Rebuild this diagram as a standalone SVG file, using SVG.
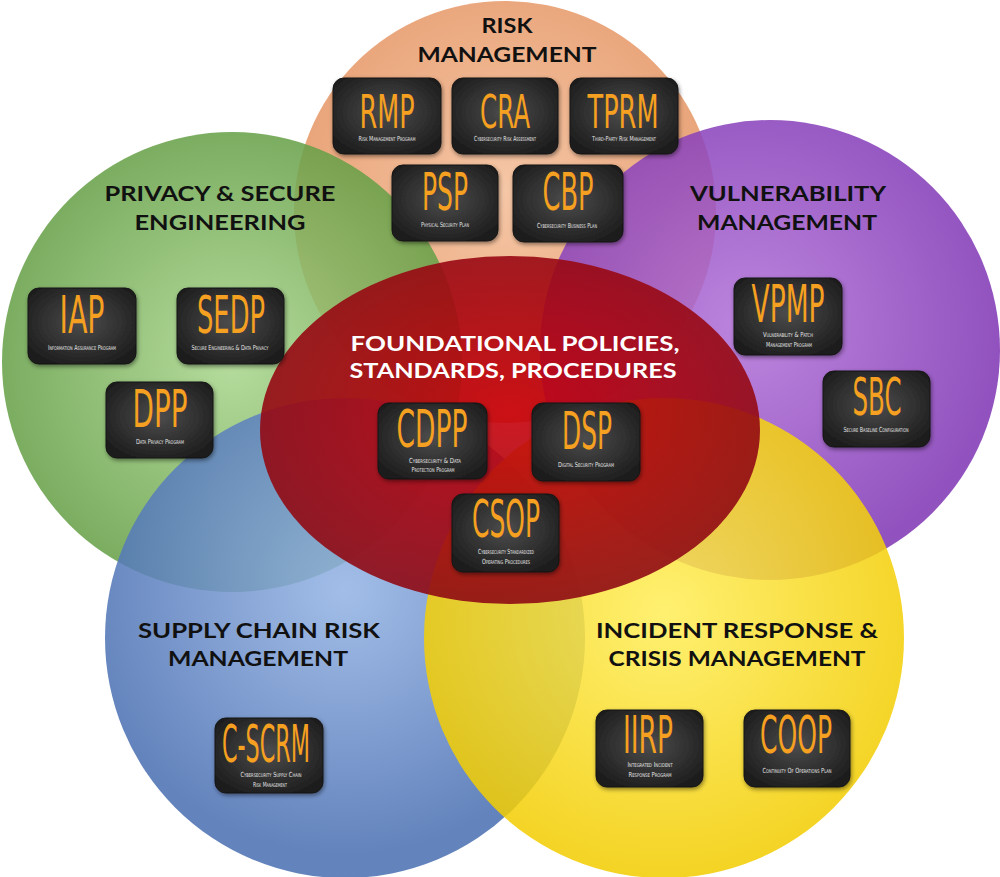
<svg xmlns="http://www.w3.org/2000/svg" width="1000" height="877" viewBox="0 0 1000 877">
<defs>
<radialGradient id="gOr" cx="0.5" cy="0.45" r="0.55"><stop offset="0" stop-color="#F4BE98"/><stop offset="1" stop-color="#E4915E"/></radialGradient>
<radialGradient id="gGr" cx="0.5" cy="0.5" r="0.55"><stop offset="0" stop-color="#A9D68C"/><stop offset="1" stop-color="#5F9A40"/></radialGradient>
<radialGradient id="gPu" cx="0.45" cy="0.45" r="0.55"><stop offset="0" stop-color="#B271D8"/><stop offset="1" stop-color="#7F36B4"/></radialGradient>
<radialGradient id="gBl" cx="0.5" cy="0.4" r="0.55"><stop offset="0" stop-color="#93B3E4"/><stop offset="1" stop-color="#4A6FB2"/></radialGradient>
<radialGradient id="gYe" cx="0.5" cy="0.45" r="0.55"><stop offset="0" stop-color="#FFEE5A"/><stop offset="1" stop-color="#F2CC00"/></radialGradient>
<radialGradient id="gRe" cx="0.5" cy="0.45" r="0.55"><stop offset="0" stop-color="#C8000A"/><stop offset="1" stop-color="#8E0A14"/></radialGradient>
<radialGradient id="gBox" cx="0.5" cy="0.45" r="0.6"><stop offset="0" stop-color="#4C4C4C"/><stop offset="1" stop-color="#1E1E1E"/></radialGradient>
<filter id="sh" x="-20%" y="-20%" width="140%" height="140%"><feDropShadow dx="1" dy="2" stdDeviation="2" flood-color="#000" flood-opacity="0.45"/></filter>
</defs>
<style>
.c{opacity:0.86}
.box{fill:url(#gBox);stroke:#151515;stroke-width:1;filter:url(#sh)}
.ac{font-family:"DejaVu Sans Condensed","DejaVu Sans",sans-serif;font-stretch:condensed;font-size:52px;fill:#F5A020;text-anchor:middle}
.ac2{font-size:46px}
.sub{font-family:"DejaVu Sans Condensed","DejaVu Sans",sans-serif;font-variant:small-caps;font-size:7px;fill:#E6E6E6;text-anchor:middle}
.ti{font-family:Lato,"Open Sans",sans-serif;font-weight:bold;font-size:21px;fill:#111;text-anchor:middle}
.tw{fill:#fff}
</style>
<g id="circles">
<circle class="c" cx="505" cy="212" r="211" fill="url(#gOr)"/>
<circle class="c" cx="232" cy="362" r="230" fill="url(#gGr)"/>
<circle class="c" cx="770" cy="350" r="230" fill="url(#gPu)"/>
<circle class="c" cx="345" cy="638" r="240" fill="url(#gBl)"/>
<circle class="c" cx="664" cy="638" r="240" fill="url(#gYe)"/>
<ellipse cx="510" cy="430" rx="250" ry="174" fill="url(#gRe)" opacity="0.9"/>
</g>
<g id="titles">
<text class="ti" x="507" y="33" textLength="51" lengthAdjust="spacingAndGlyphs">RISK</text>
<text class="ti" x="507" y="62" textLength="179" lengthAdjust="spacingAndGlyphs">MANAGEMENT</text>
<text class="ti" x="220" y="201" textLength="231" lengthAdjust="spacingAndGlyphs">PRIVACY &amp; SECURE</text>
<text class="ti" x="220" y="230" textLength="171" lengthAdjust="spacingAndGlyphs">ENGINEERING</text>
<text class="ti" x="788" y="201" textLength="196" lengthAdjust="spacingAndGlyphs">VULNERABILITY</text>
<text class="ti" x="787" y="230" textLength="180" lengthAdjust="spacingAndGlyphs">MANAGEMENT</text>
<text class="ti tw" x="515" y="351" textLength="329" lengthAdjust="spacingAndGlyphs">FOUNDATIONAL POLICIES,</text>
<text class="ti tw" x="513" y="378" textLength="327" lengthAdjust="spacingAndGlyphs">STANDARDS, PROCEDURES</text>
<text class="ti" x="259" y="638" textLength="242" lengthAdjust="spacingAndGlyphs">SUPPLY CHAIN RISK</text>
<text class="ti" x="258" y="666" textLength="180" lengthAdjust="spacingAndGlyphs">MANAGEMENT</text>
<text class="ti" x="737" y="638" textLength="282" lengthAdjust="spacingAndGlyphs">INCIDENT RESPONSE &amp;</text>
<text class="ti" x="737" y="666" textLength="257" lengthAdjust="spacingAndGlyphs">CRISIS MANAGEMENT</text>
</g>
<g id="RMP"><rect class="box" x="333" y="78" width="108" height="76" rx="11"/><text class="ac ac2" x="387" y="128" textLength="55" lengthAdjust="spacingAndGlyphs">RMP</text><text class="sub" x="387" y="141" textLength="57" lengthAdjust="spacingAndGlyphs">Risk Management Program</text></g>
<g id="CRA"><rect class="box" x="452" y="78" width="106" height="76" rx="11"/><text class="ac ac2" x="505" y="128" textLength="50" lengthAdjust="spacingAndGlyphs">CRA</text><text class="sub" x="505" y="141" textLength="62" lengthAdjust="spacingAndGlyphs">Cybersecurity Risk Assessment</text></g>
<g id="TPRM"><rect class="box" x="570" y="78" width="108" height="76" rx="11"/><text class="ac ac2" x="623" y="128" textLength="71" lengthAdjust="spacingAndGlyphs">TPRM</text><text class="sub" x="624" y="141" textLength="64" lengthAdjust="spacingAndGlyphs">Third-Party Risk Management</text></g>
<g id="PSP"><rect class="box" x="392" y="165" width="106" height="76" rx="11"/><text class="ac" x="445" y="210" textLength="46" lengthAdjust="spacingAndGlyphs">PSP</text><text class="sub" x="445" y="227" textLength="48" lengthAdjust="spacingAndGlyphs">Physical Security Plan</text></g>
<g id="CBP"><rect class="box" x="513" y="165" width="110" height="77" rx="11"/><text class="ac" x="568" y="210" textLength="51" lengthAdjust="spacingAndGlyphs">CBP</text><text class="sub" x="567" y="228" textLength="60" lengthAdjust="spacingAndGlyphs">Cybersecurity Business Plan</text></g>
<g id="IAP"><rect class="box" x="28" y="288" width="108" height="76" rx="11"/><text class="ac" x="82" y="333" textLength="45" lengthAdjust="spacingAndGlyphs">IAP</text><text class="sub" x="82" y="350" textLength="68" lengthAdjust="spacingAndGlyphs">Information Assurance Program</text></g>
<g id="SEDP"><rect class="box" x="177" y="288" width="107" height="76" rx="11"/><text class="ac" x="231" y="333" textLength="68" lengthAdjust="spacingAndGlyphs">SEDP</text><text class="sub" x="230" y="350" textLength="77" lengthAdjust="spacingAndGlyphs">Secure Engineering &amp; Data Privacy</text></g>
<g id="DPP"><rect class="box" x="106" y="382" width="107" height="76" rx="11"/><text class="ac" x="160" y="427" textLength="55" lengthAdjust="spacingAndGlyphs">DPP</text><text class="sub" x="160" y="444" textLength="48" lengthAdjust="spacingAndGlyphs">Data Privacy Program</text></g>
<g id="CDPP"><rect class="box" x="378" y="403" width="109" height="76" rx="11"/><text class="ac" x="432" y="447" textLength="71" lengthAdjust="spacingAndGlyphs">CDPP</text><text class="sub" x="435" y="463" textLength="52" lengthAdjust="spacingAndGlyphs">Cybersecurity &amp; Data</text><text class="sub" x="433" y="472" textLength="43" lengthAdjust="spacingAndGlyphs">Protection Program</text></g>
<g id="DSP"><rect class="box" x="532" y="403" width="108" height="78" rx="11"/><text class="ac" x="587" y="449" textLength="50" lengthAdjust="spacingAndGlyphs">DSP</text><text class="sub" x="586" y="467" textLength="56" lengthAdjust="spacingAndGlyphs">Digital Security Program</text></g>
<g id="CSOP"><rect class="box" x="452" y="494" width="107" height="78" rx="11"/><text class="ac" x="506" y="537" textLength="68" lengthAdjust="spacingAndGlyphs">CSOP</text><text class="sub" x="506" y="554" textLength="56" lengthAdjust="spacingAndGlyphs">Cybersecurity Standardized</text><text class="sub" x="506" y="564" textLength="48" lengthAdjust="spacingAndGlyphs">Operating Procedures</text></g>
<g id="VPMP"><rect class="box" x="734" y="278" width="108" height="77" rx="11"/><text class="ac" x="788" y="322" textLength="73" lengthAdjust="spacingAndGlyphs">VPMP</text><text class="sub" x="788" y="337" textLength="50" lengthAdjust="spacingAndGlyphs">Vulnerability &amp; Patch</text><text class="sub" x="789" y="347" textLength="46" lengthAdjust="spacingAndGlyphs">Management Program</text></g>
<g id="SBC"><rect class="box" x="823" y="371" width="107" height="76" rx="11"/><text class="ac" x="877" y="415" textLength="49" lengthAdjust="spacingAndGlyphs">SBC</text><text class="sub" x="876" y="432" textLength="65" lengthAdjust="spacingAndGlyphs">Secure Baseline Configuration</text></g>
<g id="IIRP"><rect class="box" x="596" y="710" width="107" height="77" rx="11"/><text class="ac" x="648" y="753" textLength="50" lengthAdjust="spacingAndGlyphs">IIRP</text><text class="sub" x="650" y="767" textLength="45" lengthAdjust="spacingAndGlyphs">Integrated Incident</text><text class="sub" x="650" y="777" textLength="43" lengthAdjust="spacingAndGlyphs">Response Program</text></g>
<g id="COOP"><rect class="box" x="744" y="710" width="106" height="77" rx="11"/><text class="ac" x="796" y="753" textLength="72" lengthAdjust="spacingAndGlyphs">COOP</text><text class="sub" x="797" y="773" textLength="69" lengthAdjust="spacingAndGlyphs">Continuity Of Operations Plan</text></g>
<g id="C-SCRM"><rect class="box" x="215" y="718" width="108" height="75" rx="11"/><text class="ac" x="266" y="762" textLength="88" lengthAdjust="spacingAndGlyphs">C-SCRM</text><text class="sub" x="271" y="777" textLength="61" lengthAdjust="spacingAndGlyphs">Cybersecurity Supply Chain</text><text class="sub" x="270" y="787" textLength="34" lengthAdjust="spacingAndGlyphs">Risk Management</text></g>
<g id="connectors"/>
</svg>
